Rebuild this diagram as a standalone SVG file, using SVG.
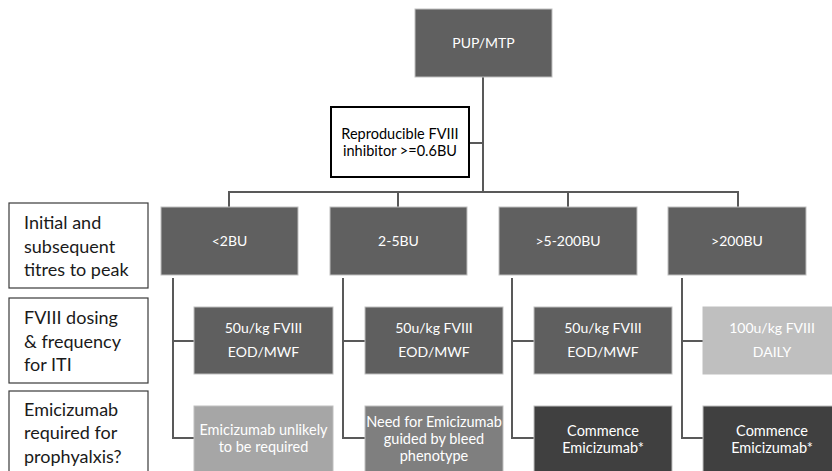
<svg xmlns="http://www.w3.org/2000/svg" width="832" height="471" viewBox="0 0 832 471">
<style>
.box{stroke:#bfbfbf;stroke-width:1}
.d1{fill:#606060}
.l2{fill:#5f5f5f}
.lt{fill:#bfbfbf}
.lm{fill:#a6a6a6}
.md{fill:#7f7f7f}
.dk{fill:#404040}
.wt{font-family:Lato,"Liberation Sans",sans-serif;font-size:14px;fill:#ffffff;text-anchor:middle}
.w3{font-size:14.5px}
.lbl{fill:#ffffff;stroke:#3a3a3a;stroke-width:1.2}
.lt2{font-family:Lato,"Liberation Sans",sans-serif;font-size:18px;fill:#1a1a1a}
.bt{font-family:Lato,"Liberation Sans",sans-serif;font-size:14.5px;fill:#000;text-anchor:middle}
.conn line,.conn polyline{stroke:#595959;stroke-width:2;fill:none}
</style>
<g class="conn">
<line x1="483" y1="77" x2="483" y2="192"/>
<line x1="469" y1="143" x2="483" y2="143"/>
<polyline points="229,207 229,192 738,192 738,207"/>
<line x1="398" y1="192" x2="398" y2="207"/>
<line x1="568" y1="192" x2="568" y2="207"/>
<polyline points="194,341 173,341 173,278 173,438 194,438"/>
<polyline points="365,341 343,341 343,278 343,438 365,438"/>
<polyline points="534,341 512,341 512,278 512,438 534,438"/>
<polyline points="703,341 682,341 682,278 682,438 703,438"/>
</g>
<g id="pup"><rect class="box d1" x="415" y="9" width="137" height="68"/><text class="wt" x="483.5" y="48">PUP/MTP</text></g>
<g id="repro"><rect x="331" y="107" width="138" height="70" fill="#fff" stroke="#000" stroke-width="2"/><text class="bt" x="400" y="139">Reproducible FVIII</text><text class="bt" x="400" y="156">inhibitor &gt;=0.6BU</text></g>
<g id="lab1"><rect class="lbl" x="9" y="203" width="139" height="85"/><text class="lt2" x="24" y="229">Initial and</text><text class="lt2" x="24" y="253">subsequent</text><text class="lt2" x="24" y="276">titres to peak</text></g>
<g id="lab2"><rect class="lbl" x="9" y="298" width="139" height="85"/><text class="lt2" x="24" y="324">FVIII dosing</text><text class="lt2" x="24" y="348">&amp; frequency</text><text class="lt2" x="24" y="371">for ITI</text></g>
<g id="lab3"><rect class="lbl" x="9" y="391" width="139" height="90"/><text class="lt2" x="24" y="416">Emicizumab</text><text class="lt2" x="24" y="439">required for</text><text class="lt2" x="24" y="463">prophyalxis?</text></g>
<g id="t1"><rect class="box d1" x="161" y="207" width="137" height="68"/><text class="wt" x="229.5" y="246">&lt;2BU</text></g>
<g id="t2"><rect class="box d1" x="330" y="207" width="137" height="68"/><text class="wt" x="398.5" y="246">2-5BU</text></g>
<g id="t3"><rect class="box d1" x="499" y="207" width="138" height="68"/><text class="wt" x="568" y="246">&gt;5-200BU</text></g>
<g id="t4"><rect class="box d1" x="668" y="207" width="138" height="68"/><text class="wt" x="737" y="246">&gt;200BU</text></g>
<g id="d1"><rect class="box l2" x="194" y="307" width="139" height="67"/><text class="wt" x="263.5" y="333">50u/kg FVIII</text><text class="wt" x="263.5" y="357">EOD/MWF</text></g>
<g id="d2"><rect class="box l2" x="365" y="307" width="138" height="67"/><text class="wt" x="434" y="333">50u/kg FVIII</text><text class="wt" x="434" y="357">EOD/MWF</text></g>
<g id="d3"><rect class="box l2" x="534" y="307" width="138" height="67"/><text class="wt" x="603" y="333">50u/kg FVIII</text><text class="wt" x="603" y="357">EOD/MWF</text></g>
<g id="d4"><rect class="box lt" x="703" y="307" width="138" height="67"/><text class="wt" x="772" y="333">100u/kg FVIII</text><text class="wt" x="772" y="357">DAILY</text></g>
<g id="e1"><rect class="box lm" x="194" y="406" width="139" height="67"/><text class="wt w3" x="263.5" y="435">Emicizumab unlikely</text><text class="wt w3" x="263.5" y="452">to be required</text></g>
<g id="e2"><rect class="box md" x="365" y="406" width="138" height="67"/><text class="wt w3" x="434" y="427">Need for Emicizumab</text><text class="wt w3" x="434" y="444">guided by bleed</text><text class="wt w3" x="434" y="461">phenotype</text></g>
<g id="e3"><rect class="box dk" x="534" y="406" width="138" height="67"/><text class="wt w3" x="603" y="436">Commence</text><text class="wt w3" x="603" y="453">Emicizumab*</text></g>
<g id="e4"><rect class="box dk" x="703" y="406" width="138" height="67"/><text class="wt w3" x="772" y="436">Commence</text><text class="wt w3" x="772" y="453">Emicizumab*</text></g>
</svg>
